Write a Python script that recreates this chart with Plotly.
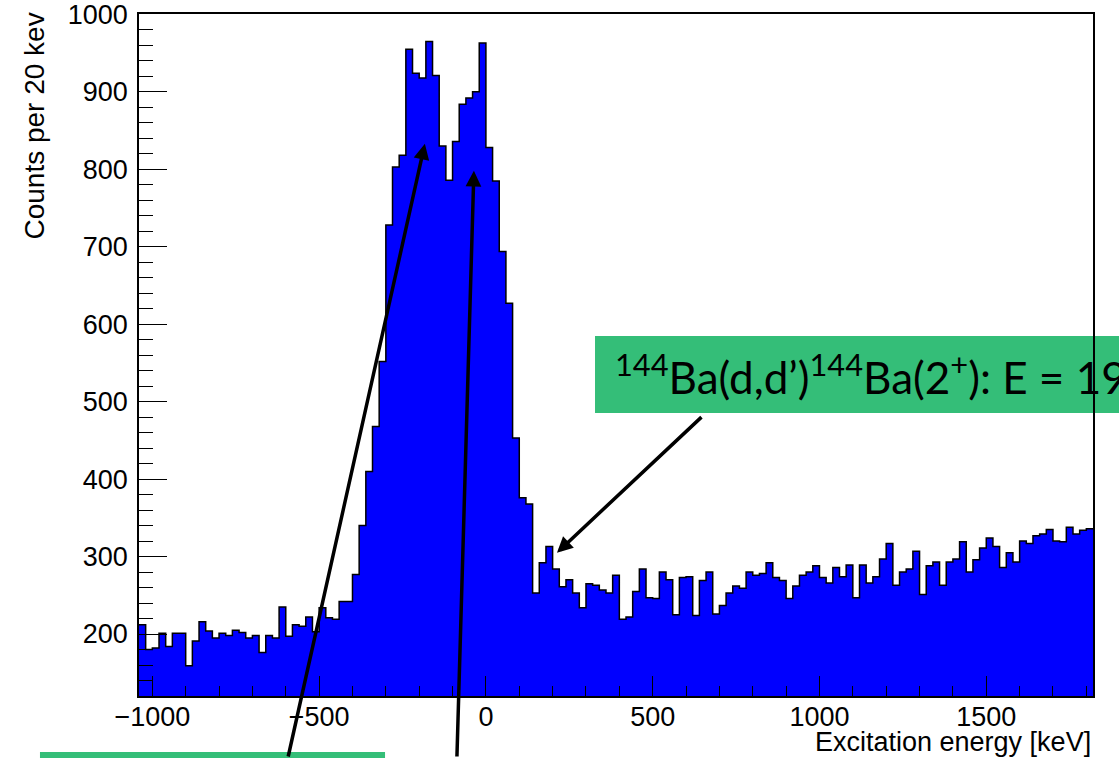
import plotly.graph_objects as go

# ---------------- data ----------------
bin_width = 20          # keV
x_start = -1040         # left edge of first bin (keV)
counts = [
    212, 180, 182, 201, 184, 201, 201, 159, 191, 216,
    204, 195, 201, 198, 205, 202, 195, 198, 176, 198,
    195, 235, 197, 212, 210, 222, 203, 234, 221, 219,
    242, 242, 277, 340, 410, 468, 552, 728, 803, 818,
    955, 924, 918, 965, 921, 830, 786, 836, 884, 892,
    900, 963, 828, 785, 694, 627, 453, 376, 368, 253,
    292, 313, 284, 261, 270, 253, 234, 265, 263, 257,
    253, 276, 219, 222, 255, 284, 247, 246, 280, 270,
    225, 273, 274, 224, 269, 280, 226, 237, 253, 262,
    259, 280, 276, 278, 292, 273, 269, 246, 262, 276,
    280, 288, 273, 266, 286, 274, 289, 247, 289, 266,
    274, 297, 317, 263, 280, 284, 307, 251, 288, 293,
    263, 293, 297, 319, 280, 296, 311, 324, 313, 286,
    305, 293, 320, 317, 327, 329, 335, 320, 319, 338,
    329, 334, 336,
]
x_tick_vals = [-1000, -500, 0, 500, 1000, 1500]
x_tick_text = ["\u22121000", "\u2212500", "0", "500", "1000", "1500"]
y_tick_vals = [200, 300, 400, 500, 600, 700, 800, 900, 1000]
y_tick_text = ["200", "300", "400", "500", "600", "700", "800", "900", "1000"]
x_title = "Excitation energy [keV]"
y_title = "Counts per 20 kev"
label_text = "<sup>144</sup>Ba(d,d\u2019)<sup>144</sup>Ba(2<sup>+</sup>): E = 199 keV"

edges = [x_start + bin_width * i for i in range(len(counts) + 1)]
y_step = counts + [counts[-1]]

fig = go.Figure()
fig.add_trace(go.Scatter(
    x=edges, y=y_step, mode="lines",
    line=dict(shape="hv", color="black", width=1.5),
    fill="tozeroy", fillcolor="#0000ff",
    hoverinfo="skip",
))

FONT = "Liberation Sans, Arial, Helvetica, sans-serif"
GREEN = "#34be78"

fig.update_layout(
    width=1119, height=758,
    margin=dict(l=139, r=26, t=14, b=62, pad=0),
    paper_bgcolor="white", plot_bgcolor="rgba(0,0,0,0)",
    showlegend=False,
    font=dict(family=FONT, color="black", size=27),
)
fig.update_xaxes(
    range=[-1040, 1820], automargin=False,
    tickmode="array", tickvals=x_tick_vals, ticktext=x_tick_text,
    ticks="inside", ticklen=20, tickwidth=1.3, tickcolor="black",
    minor=dict(ticks="inside", ticklen=10, tickwidth=1.3, tickcolor="black",
               tickmode="linear", tick0=0, dtick=100),
    showline=True, linecolor="black", linewidth=1.5, mirror=True,
    showgrid=False, zeroline=False,
    tickfont=dict(family=FONT, size=27, color="black"),
    ticklabelstandoff=-4, ticklabeloverflow="allow",
)
fig.update_yaxes(
    range=[120, 1000.5], automargin=False,
    tickmode="array", tickvals=y_tick_vals, ticktext=y_tick_text,
    ticks="inside", ticklen=28, tickwidth=1.3, tickcolor="black",
    minor=dict(ticks="inside", ticklen=14, tickwidth=1.3, tickcolor="black",
               tickmode="linear", tick0=0, dtick=20),
    showline=True, linecolor="black", linewidth=1.5, mirror=True,
    showgrid=False, zeroline=False,
    tickfont=dict(family=FONT, size=27, color="black"),
    ticklabelstandoff=4, ticklabeloverflow="allow",
)

# green label boxes
fig.add_shape(type="rect", xref="paper", yref="paper",
              x0=0.478, x1=1.05, y0=0.415, y1=0.528,
              fillcolor=GREEN, line=dict(width=0), layer="below")
fig.add_shape(type="rect", xref="paper", yref="paper",
              x0=-0.1038, x1=0.2579, y0=-0.12, y1=-0.0821,
              fillcolor=GREEN, line=dict(width=0), layer="above")

annotations = [
    dict(text=y_title, xref="paper", yref="paper", x=-0.109, y=0.835,
         textangle=-90, showarrow=False, xanchor="center", yanchor="middle",
         font=dict(family=FONT, size=28, color="black")),
    dict(text=x_title, xref="paper", yref="paper", x=1.0, y=-0.068,
         showarrow=False, xanchor="right", yanchor="middle",
         font=dict(family=FONT, size=27, color="black")),
    dict(text=label_text, xref="paper", yref="paper", x=0.497, y=0.4714,
         showarrow=False, xanchor="left", yanchor="middle",
         font=dict(family="Lato, Carlito, sans-serif", size=44, color="black")),
]
# arrows: head in data coords, tail as pixel offset
arrows = [(-183, 833, -137, 627), (-36, 798, -17, 600), (213, 305, 146, -137)]
for hx, hy, ax, ay in arrows:
    annotations.append(dict(
        x=hx, y=hy, xref="x", yref="y", ax=ax, ay=ay, text="",
        showarrow=True, arrowhead=2, arrowsize=0.9, arrowwidth=3.5,
        arrowcolor="black",
    ))
fig.update_layout(annotations=annotations)

fig.write_html(
    "out.html",
    config={"displayModeBar": False},
    post_script="document.body.style.margin='0';document.body.style.overflow='hidden';",
)
